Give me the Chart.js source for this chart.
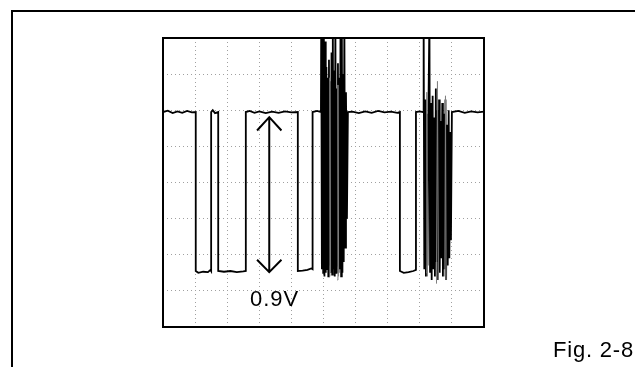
<!DOCTYPE html>
<html>
<head>
<meta charset="utf-8">
<script src="https://cdn.jsdelivr.net/npm/chart.js@4"></script>
<style>
  html, body { margin: 0; padding: 0; background: #fff; overflow: hidden; }
  #wrap { position: relative; width: 635px; height: 367px; overflow: hidden; }
  #frame { position: absolute; left: 11px; top: 10px; width: 700px; height: 500px; border: 2px solid #000; }
  #scope { position: absolute; left: 0; top: 0; }
  .lbl { position: absolute; font-family: "Liberation Sans", Arial, sans-serif; font-size: 22px; line-height: 22px; color: #000; white-space: nowrap; }
</style>
</head>
<body>
<div id="wrap">
  <div id="frame"></div>
  <canvas id="scope" width="635" height="367"></canvas>
  <div class="lbl" style="left:250px; top:288px; letter-spacing:1px;">0.9V</div>
  <div class="lbl" style="left:553px; top:339px; letter-spacing:0.8px;">Fig. 2-8</div>
</div>
<script>
// screen in divisions: 10 across, 8 up
const xDivs = 10;
const yDivs = 8;

// main trace (x in div, y in div)
const traceX = [
  0, 0.15, 0.3, 0.45, 0.6, 0.75, 0.9, 1.02,
  1.02, 1.1, 1.25, 1.4, 1.48, 1.5,
  1.5, 1.55, 1.62, 1.72,
  1.72, 1.9, 2.1, 2.3, 2.5, 2.58,
  2.58, 2.7, 2.85, 3.0, 3.2, 3.4, 3.6, 3.8, 4.0, 4.2,
  4.2, 4.35, 4.5, 4.62, 4.66,
  4.66, 4.8, 4.92,
  4.93, 4.95, 4.97, 4.99, 5.01, 5.03, 5.05, 5.07, 5.09, 5.11, 5.13, 5.15, 5.17, 5.19,
  5.21, 5.23, 5.25, 5.27, 5.29, 5.31, 5.33, 5.35, 5.37, 5.39, 5.41, 5.43, 5.45, 5.47,
  5.49, 5.51, 5.53, 5.55, 5.57, 5.59, 5.61, 5.63, 5.65, 5.67, 5.7, 5.73, 5.76,
  5.9, 6.1, 6.3, 6.5, 6.7, 6.9, 7.1, 7.3, 7.38,
  7.38, 7.5, 7.65, 7.8, 7.88,
  7.88, 8.0, 8.1,
  8.12, 8.14, 8.17, 8.19, 8.22, 8.24, 8.27, 8.3, 8.32, 8.35, 8.37, 8.4, 8.42, 8.45,
  8.47, 8.5, 8.52, 8.55, 8.57, 8.6, 8.62, 8.65, 8.67, 8.7, 8.72, 8.75, 8.77, 8.8,
  8.82, 8.85, 8.87, 8.9, 8.92, 8.95, 8.97, 9.0,
  9.2, 9.4, 9.6, 9.8, 10
];
const traceY = [
  5.95, 5.99, 5.92, 5.97, 5.93, 5.98, 5.94, 5.95,
  1.55, 1.5, 1.53, 1.52, 1.58, 1.55,
  5.95, 6.0, 5.92, 5.95,
  1.55, 1.53, 1.55, 1.52, 1.54, 1.55,
  5.95, 5.98, 5.93, 5.97, 5.92, 5.96, 5.93, 5.97, 5.94, 5.95,
  1.55, 1.56, 1.58, 1.62, 1.6,
  5.95, 5.98, 5.95,
  8.6, 1.6, 8.6, 1.5, 8.6, 1.4, 7.9, 1.5, 7.2, 1.6, 6.9, 1.4, 7.4, 1.7,
  6.8, 1.5, 7.6, 1.45, 8.6, 1.6, 7.1, 1.4, 8.6, 1.5, 6.6, 1.7, 7.3, 1.5,
  6.9, 1.6, 8.6, 1.4, 8.6, 1.5, 7.0, 1.8, 8.6, 2.2, 6.5, 3.0, 5.95,
  5.96, 5.92, 5.97, 5.93, 5.98, 5.94, 5.96, 5.93, 5.95,
  1.55, 1.5, 1.52, 1.55, 1.58,
  5.95, 5.97, 5.95,
  8.6, 1.6, 6.3, 1.4, 5.9, 1.7, 6.1, 8.6, 1.5, 6.2, 1.3, 6.4, 1.6, 5.8,
  1.4, 6.6, 1.8, 6.0, 1.3, 6.3, 1.5, 5.7, 1.9, 6.2, 1.4, 5.9, 1.6, 6.3,
  1.3, 5.6, 1.7, 6.0, 1.9, 5.4, 2.4, 5.95,
  5.98, 5.93, 5.97, 5.94, 5.96
];

// fainter persistence lines inside the bursts
const ghostX = [5.18, 5.2, 5.22, 5.22, 5.43, 5.45, 5.47, 5.47, 8.2, 8.22, 8.24, 8.24, 8.52, 8.55, 8.58, 8.58, 8.78, 8.8, 8.82];
const ghostY = [1.4, 6.9, 1.5, null, 1.3, 6.7, 1.4, null, 1.5, 6.5, 1.4, null, 1.2, 6.8, 1.3, null, 1.4, 6.4, 1.3];

// 0.9V double arrow
const arrowX = [3.31, 3.31, 3.31, 2.93, 3.31, 3.69, 3.69, 2.93, 3.31, 3.69];
const arrowY = [5.81, 1.52, null, 5.44, 5.81, 5.44, null, 1.86, 1.52, 1.86];

function pts(xs, ys) {
  return xs.map((x, i) => ({ x: x, y: ys[i] }));
}

const boxFrame = {
  id: "boxFrame",
  afterDraw(chart) {
    const a = chart.chartArea;
    const ctx = chart.ctx;
    ctx.save();
    ctx.strokeStyle = "#000";
    ctx.lineWidth = 2;
    ctx.strokeRect(a.left, a.top, a.right - a.left, a.bottom - a.top);
    ctx.restore();
  }
};

new Chart(document.getElementById("scope"), {
  type: "line",
  data: {
    datasets: [
      {
        data: pts(ghostX, ghostY),
        borderColor: "#808080",
        borderWidth: 1,
        pointRadius: 0,
        spanGaps: false
      },
      {
        data: pts(traceX, traceY),
        borderColor: "#000",
        borderWidth: 1.8,
        pointRadius: 0
      },
      {
        data: pts(arrowX, arrowY),
        borderColor: "#000",
        borderWidth: 2,
        pointRadius: 0,
        spanGaps: false
      }
    ]
  },
  options: {
    responsive: false,
    animation: false,
    layout: { padding: { left: 163, top: 38, right: 151, bottom: 40 } },
    plugins: { legend: { display: false }, tooltip: { enabled: false } },
    scales: {
      x: {
        type: "linear",
        min: 0,
        max: xDivs,
        ticks: { display: false, stepSize: 1 },
        border: { display: false, dash: [1, 3] },
        grid: { color: "#a0a0a0", lineWidth: 1, drawTicks: false }
      },
      y: {
        type: "linear",
        min: 0,
        max: yDivs,
        ticks: { display: false, stepSize: 1 },
        border: { display: false, dash: [1, 3] },
        grid: { color: "#a0a0a0", lineWidth: 1, drawTicks: false }
      }
    }
  },
  plugins: [boxFrame]
});
</script>
</body>
</html>
